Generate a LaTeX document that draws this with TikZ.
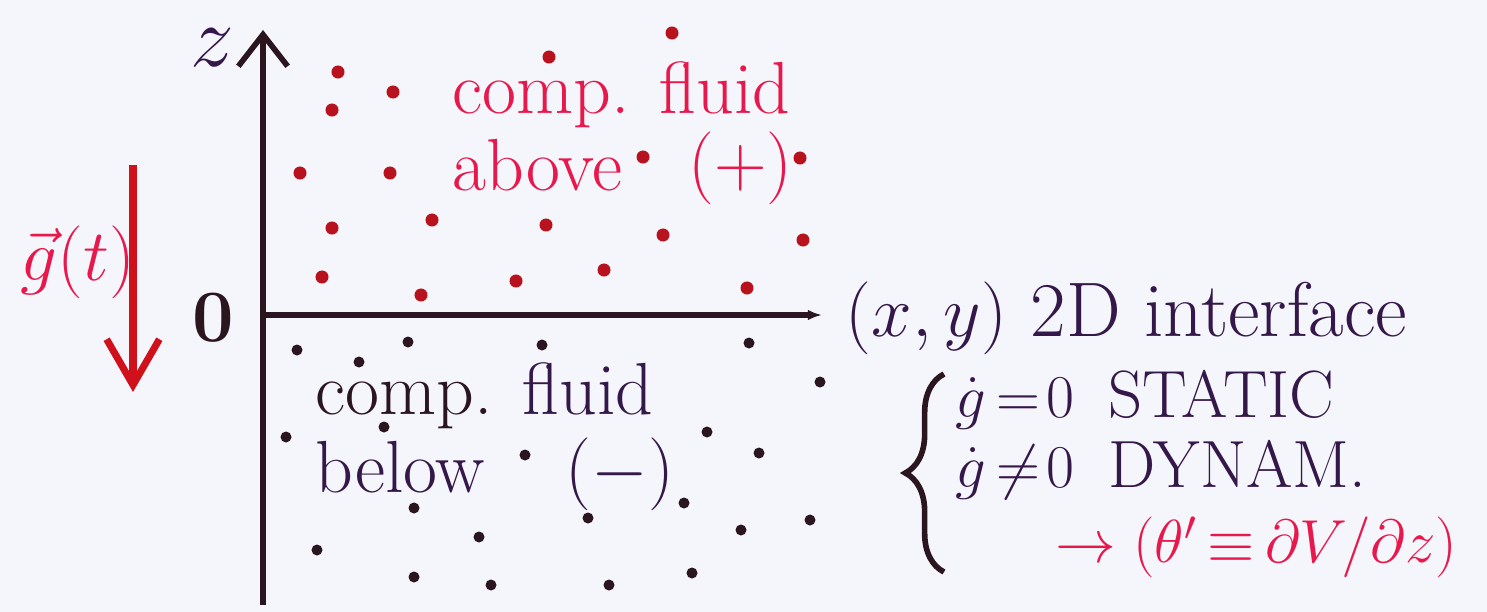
\documentclass[tikz,border=0pt]{standalone}
\usepackage{amsmath,amssymb}
\usetikzlibrary{arrows.meta,decorations.pathreplacing}
\definecolor{paper}{HTML}{F5F6FB}
\definecolor{ink}{HTML}{2B1620}
\definecolor{violetink}{HTML}{35184A}
\definecolor{pinkred}{HTML}{E8184C}
\definecolor{dotred}{HTML}{B8121E}
\definecolor{arrowred}{HTML}{D0101A}
\tikzset{
  hand/.style={font=\fontsize{21}{24}\selectfont, inner sep=0pt},
  redtext/.style={hand, text=pinkred},
  inktext/.style={hand, text=violetink},
  axisline/.style={ink, line width=1.6pt},
  gravarrow/.style={arrowred, line width=2pt,
    -{Straight Barb[length=13pt,width=15pt,line width=2pt]}},
}
\begin{document}
\begin{tikzpicture}[x=0.01cm, y=-0.01cm]
  \fill[paper] (0,0) rectangle (1487,612);
  \useasboundingbox (0,0) rectangle (1487,612);

  \foreach \px/\py in {338/72, 393/92, 332/110, 300/173, 390/173, 432/220,
      332/228, 322/277, 421/295, 549/57, 672/33, 643/157, 800/158, 546/225,
      663/235, 803/240, 516/281, 604/270, 747/288}
    \fill[dotred] (\px,\py) circle[radius=0.065cm];
  \foreach \px/\py in {297/350, 408/342, 359/362, 542/345, 749/343, 820/382,
      384/427, 286/437, 707/432, 525/455, 759/453, 414/508, 588/518, 684/503,
      741/530, 810/520, 317/550, 479/537, 414/577, 491/585, 609/585, 692/573}
    \fill[ink] (\px,\py) circle[radius=0.055cm];

  \coordinate (origin) at (263,315);
  \coordinate (zbot) at (263,605);
  \coordinate (ztop) at (263,30);
  \coordinate (xend) at (822,315);
  \draw[axisline, -{Straight Barb[length=9pt,width=14pt,line width=1.6pt]}] (zbot) -- (ztop);
  \draw[axisline, -{Latex[length=4pt,width=3pt]}] (origin) -- (xend);

  \coordinate (gtop) at (133,165);
  \coordinate (gbot) at (133,392);
  \draw[gravarrow] (gtop) -- (gbot);

  \node[inktext, font=\fontsize{24}{28}\selectfont] (zlabel) at (212,48) {$z$};
  \node[hand, text=ink] (zero) at (213,318) {\textbf{0}};
  \node[redtext, font=\fontsize{20}{24}\selectfont] (glabel) at (78,262) {$\vec g(t)$};

  \node[redtext, anchor=west] (abovea) at (452,95) {comp. fluid};
  \node[redtext, anchor=west] (aboveb) at (452,165) {above};
  \node[redtext, anchor=west] (aboveplus) at (688,168) {$(+)$};

  \node[inktext, text=ink, anchor=west] (belowa) at (315,396) {comp. \textcolor{violetink}{fluid}};
  \node[inktext, anchor=west] (belowb) at (315,467) {below};
  \node[inktext, anchor=west] (belowminus) at (565,474) {$(-)$};

  \node[inktext, font=\fontsize{22}{26}\selectfont, anchor=west] (iface) at (845,318) {$(x,y)$ 2D interface};
  \node[inktext, font=\fontsize{19}{22}\selectfont, anchor=west] (static) at (955,400)
    {$\dot g\mkern3mu{=}\mkern2mu0$\enspace STATIC};
  \node[inktext, font=\fontsize{19}{22}\selectfont, anchor=west] (dynam) at (955,470)
    {$\dot g\mkern3mu{\neq}\mkern2mu0$\enspace DYNAM.};
  \node[redtext, font=\fontsize{18}{22}\selectfont, anchor=west] (thetap) at (1055,547)
    {$\rightarrow (\theta'\mkern3mu{\equiv}\mkern3mu\partial V/\partial z)$};

  \coordinate (bracebot) at (944,572);
  \coordinate (bracetop) at (944,374);
  \draw[ink, line width=1.6pt, decorate, decoration={brace, amplitude=11pt}] (bracebot) -- (bracetop);
\end{tikzpicture}
\end{document}
